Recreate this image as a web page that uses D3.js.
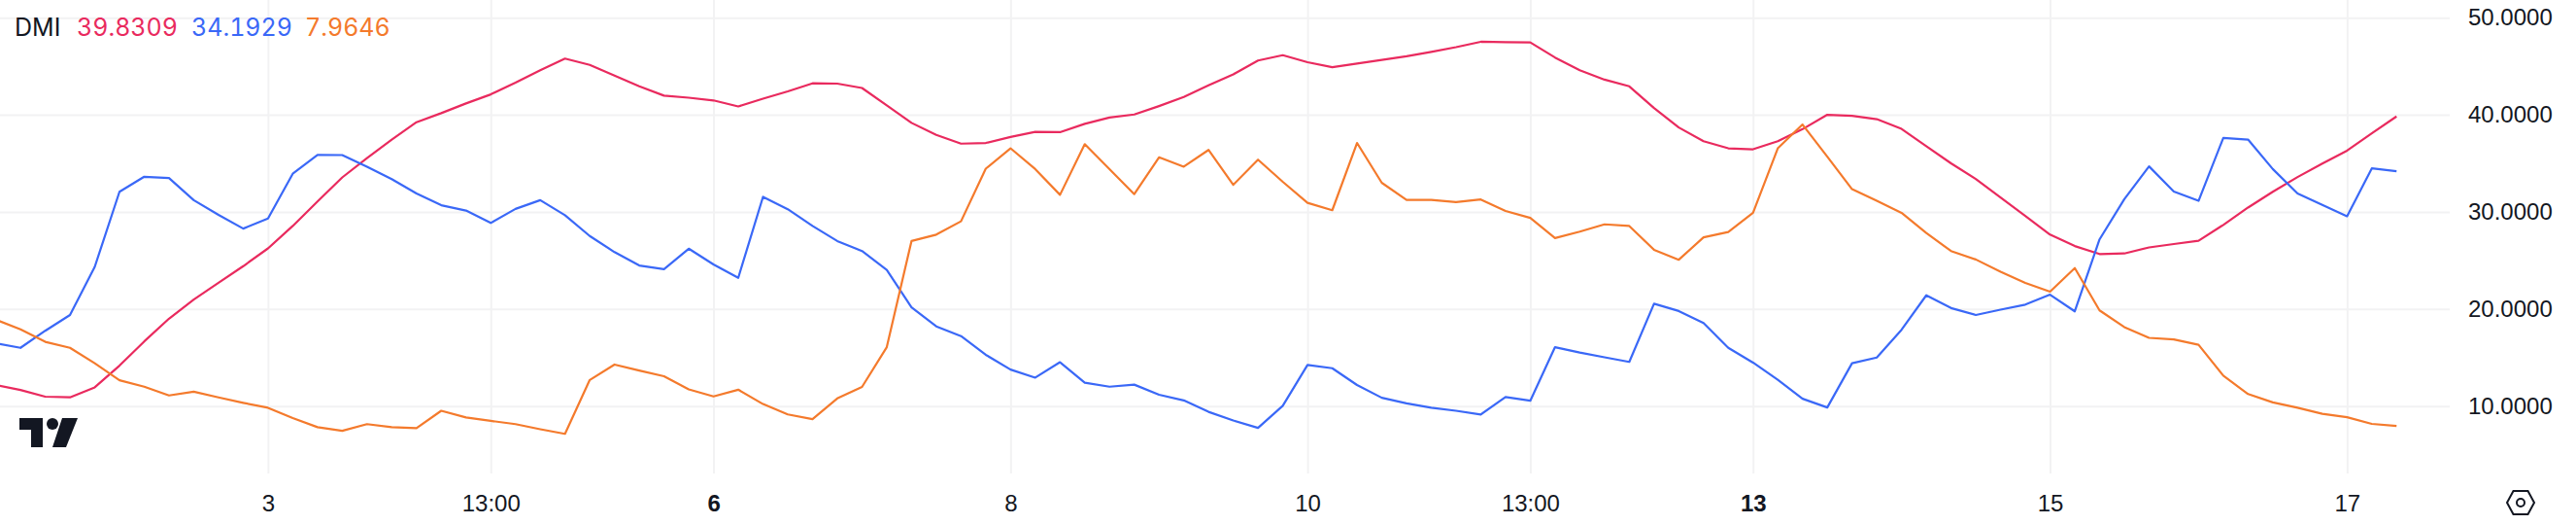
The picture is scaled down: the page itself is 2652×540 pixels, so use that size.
<!DOCTYPE html>
<html>
<head>
<meta charset="utf-8">
<script src="https://cdn.jsdelivr.net/npm/d3@7"></script>
<style>
  html, body { margin: 0; padding: 0; background: #fff; }
  svg { display: block; font-family: Inter, "Noto Sans", sans-serif; font-variant-numeric: tabular-nums; font-feature-settings: "tnum" 1; }
  .domain { display: none; }
  .tick line { stroke: #f2f2f3; stroke-width: 2; }
  .tick text { fill: #131722; font-size: 24px; }
  .legend text { font-size: 25px; }
</style>
</head>
<body>
<div id="chart"></div>
<script>
// bars are 4h apart, the first one sits just off the left edge
const plusDI = [12.17,11.66,10.97,10.90,11.93,14.17,16.66,19.00,20.97,22.69,24.41,26.24,28.55,31.07,33.55,35.55,37.45,39.24,40.17,41.17,42.10,43.31,44.59,45.79,45.14,44.03,42.93,41.97,41.76,41.48,40.86,41.66,42.41,43.24,43.21,42.76,40.97,39.17,37.93,37.03,37.10,37.72,38.24,38.21,39.07,39.72,40.03,40.90,41.83,43.03,44.17,45.59,46.14,45.41,44.90,45.28,45.66,46.03,46.48,46.97,47.52,47.48,47.45,45.90,44.59,43.62,42.93,40.69,38.69,37.28,36.55,36.45,37.28,38.52,40.00,39.90,39.55,38.55,36.76,35.00,33.38,31.48,29.59,27.66,26.48,25.66,25.72,26.34,26.69,27.03,28.66,30.45,32.07,33.59,34.97,36.31,38.10,39.83];
const minusDI = [16.48,16.00,17.76,19.38,24.34,32.07,33.62,33.48,31.21,29.69,28.28,29.31,33.93,35.86,35.85,34.66,33.38,31.90,30.69,30.14,28.86,30.31,31.21,29.66,27.52,25.86,24.48,24.10,26.21,24.59,23.21,31.55,30.28,28.55,27.00,25.97,24.03,20.17,18.21,17.21,15.28,13.76,12.93,14.52,12.41,12.00,12.21,11.17,10.59,9.41,8.52,7.76,10.03,14.24,13.90,12.17,10.86,10.28,9.83,9.52,9.14,10.93,10.55,16.07,15.52,15.03,14.55,20.55,19.79,18.55,16.00,14.48,12.72,10.76,9.86,14.41,15.00,17.86,21.41,20.10,19.38,19.93,20.45,21.48,19.76,27.17,31.31,34.69,32.10,31.14,37.62,37.45,34.41,31.90,30.72,29.55,34.48,34.19];
const adx = [18.90,17.90,16.62,16.00,14.41,12.66,12.00,11.10,11.48,10.90,10.34,9.83,8.76,7.83,7.45,8.14,7.83,7.72,9.52,8.83,8.48,8.14,7.62,7.14,12.69,14.28,13.66,13.07,11.72,11.00,11.69,10.21,9.14,8.66,10.79,11.97,16.07,27.00,27.66,29.03,34.45,36.55,34.41,31.76,36.97,34.41,31.83,35.62,34.66,36.38,32.79,35.38,33.10,30.93,30.17,37.10,33.00,31.24,31.24,31.00,31.28,30.10,29.38,27.31,27.97,28.72,28.55,26.10,25.07,27.38,27.93,29.90,36.55,39.00,35.69,32.34,31.14,29.90,27.83,25.97,25.10,23.83,22.69,21.79,24.21,19.86,18.14,17.03,16.86,16.31,13.14,11.24,10.38,9.83,9.21,8.86,8.17,7.96];

const xTickBars = [11, 20, 29, 41, 53, 62, 71, 83, 95];
const xTickLabels = ["3", "13:00", "6", "8", "10", "13:00", "13", "15", "17"];
const boldLabels = ["6", "13"];
const yTicks = [10, 20, 30, 40, 50];

const seriesList = [
  { name: "+DI", values: plusDI, color: "#e92a5e" },
  { name: "-DI", values: minusDI, color: "#3a68f7" },
  { name: "ADX", values: adx, color: "#f47a2c" },
];
const legendText = ["39.8309", "34.1929", "7.9646"];
const legendX = [79, 197, 314];

const W = 2652, H = 540, paneW = 2522, paneH = 487;

const x = d3.scaleLinear().domain([11, 95]).range([275.9, 2416.3]);
const y = d3.scaleLinear().domain([10, 50]).range([417.7, 18.2]);

const svg = d3.select("#chart").append("svg").attr("width", W).attr("height", H);

svg.append("g")
  .attr("transform", `translate(0,${paneH})`)
  .call(d3.axisBottom(x)
    .tickValues(xTickBars)
    .tickFormat((d, i) => xTickLabels[i])
    .tickSize(-paneH)
    .tickPadding(22))
  .selectAll("text")
  .style("font-weight", (d, i) => boldLabels.includes(xTickLabels[i]) ? 700 : 400);

svg.append("g")
  .attr("transform", `translate(${paneW},0)`)
  .call(d3.axisRight(y)
    .tickValues(yTicks)
    .tickFormat(d3.format(".4f"))
    .tickSize(-paneW)
    .tickPadding(19));

const line = d3.line().x((d, i) => x(i)).y(d => y(d));

svg.selectAll(".series")
  .data(seriesList)
  .join("path")
  .attr("class", "series")
  .attr("d", d => line(d.values))
  .attr("fill", "none")
  .attr("stroke", d => d.color)
  .attr("stroke-width", 2.2)
  .attr("stroke-linejoin", "round");

const legend = svg.append("g").attr("class", "legend");
legend.append("text").attr("x", 15).attr("y", 37).attr("fill", "#131722").text("DMI");
legend.selectAll(".val")
  .data(seriesList)
  .join("text")
  .attr("class", "val")
  .attr("x", (d, i) => legendX[i])
  .attr("y", 37)
  .attr("fill", d => d.color)
  .text((d, i) => legendText[i]);

// tradingview mark
const logo = svg.append("g").attr("transform", "translate(20,430)").attr("fill", "#131722");
logo.append("path").attr("d", "M0 0H24V30H12V12H0Z");
logo.append("circle").attr("cx", 34).attr("cy", 6).attr("r", 6);
logo.append("path").attr("d", "M44 0H60L48 30H34Z");

// settings hexagon
const hex = svg.append("g").attr("transform", "translate(2595,517)")
  .attr("fill", "none").attr("stroke", "#131722").attr("stroke-width", 2);
hex.append("path").attr("d", "M-14 0L-7.5 -12H7.5L14 0L7.5 12H-7.5Z");
hex.append("circle").attr("r", 4);
</script>
</body>
</html>
